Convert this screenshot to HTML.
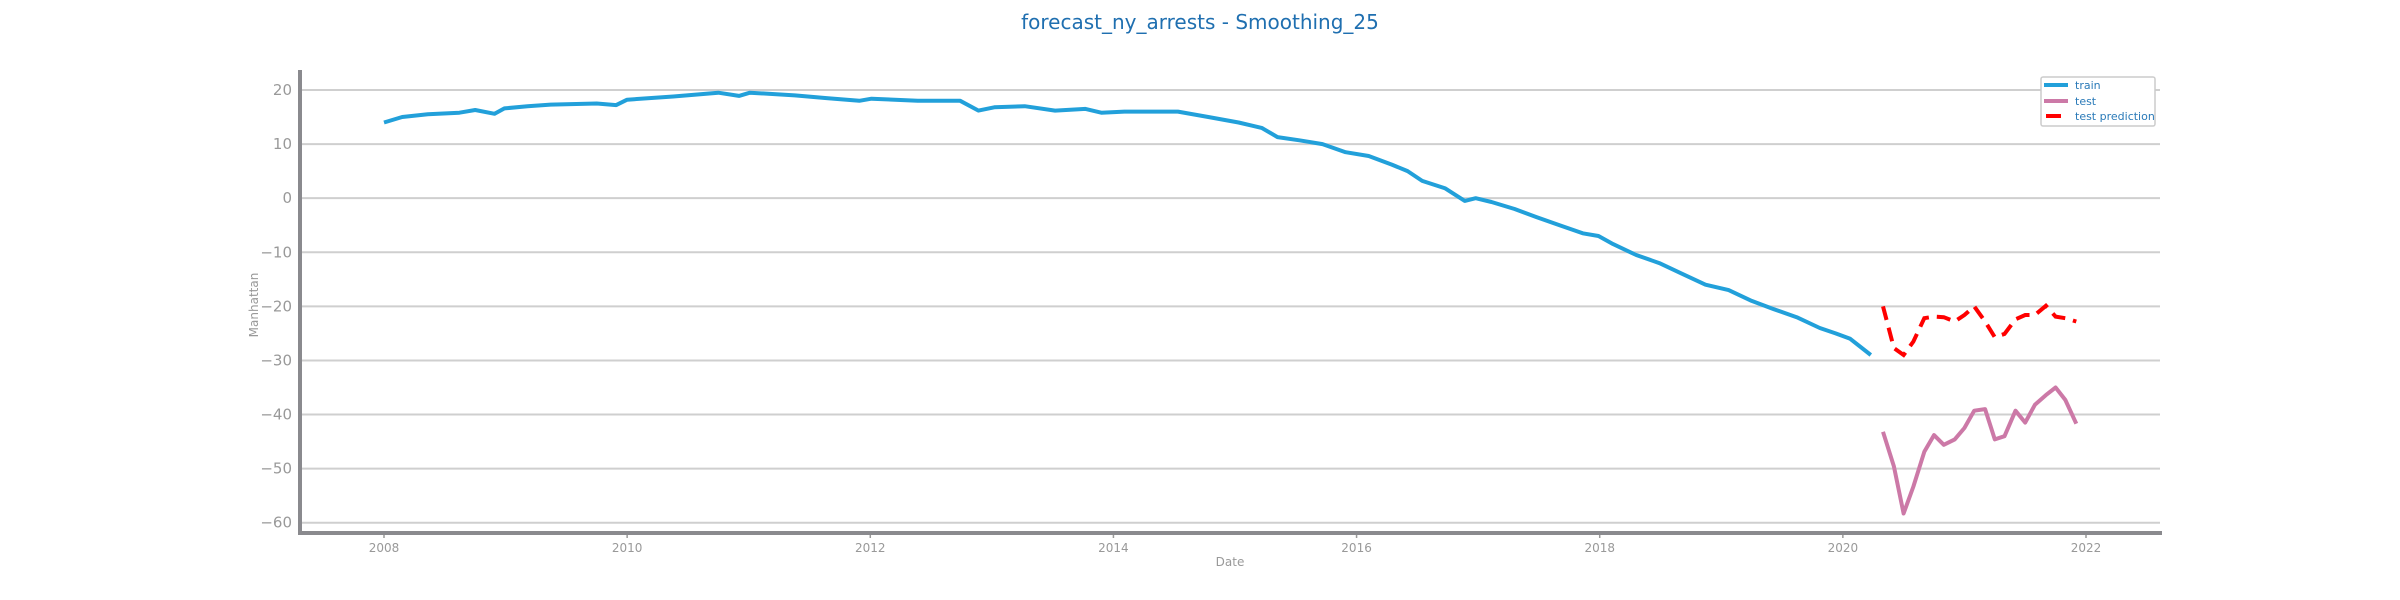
<!DOCTYPE html>
<html><head><meta charset="utf-8"><style>
html,body{margin:0;padding:0;background:#fff}
svg{display:block;font-family:"DejaVu Sans","Liberation Sans",sans-serif}
</style></head><body>
<svg id="chart" width="2400" height="600" viewBox="0 0 2400 600" xmlns="http://www.w3.org/2000/svg">
<text x="1200" y="29" text-anchor="middle" font-size="20" fill="#1f6fb0">forecast_ny_arrests - Smoothing_25</text>
<g id="grid"></g>
<g id="yticks"></g>
<g id="xticks"></g>
<g id="series"></g>
<line x1="300" y1="70" x2="300" y2="535" stroke="#8a8a8e" stroke-width="4"/>
<line x1="298" y1="533" x2="2162" y2="533" stroke="#8a8a8e" stroke-width="4"/>
<text x="1230" y="566" text-anchor="middle" font-size="12" fill="#999">Date</text>
<text transform="translate(258,305) rotate(-90)" text-anchor="middle" font-size="12" fill="#999">Manhattan</text>
<g>
<rect x="2041" y="77" width="114" height="49" rx="2" fill="#fff" stroke="#ccc" stroke-width="1.5"/>
<line x1="2044" y1="85" x2="2068" y2="85" stroke="#22a0da" stroke-width="4"/>
<text x="2075" y="89" font-size="11" fill="#2a7ab8">train</text>
<line x1="2044" y1="101" x2="2068" y2="101" stroke="#cc79a7" stroke-width="4"/>
<text x="2075" y="105" font-size="11" fill="#2a7ab8">test</text>
<line x1="2046" y1="116" x2="2061" y2="116" stroke="#ff0000" stroke-width="4"/>
<text x="2075" y="120" font-size="11" fill="#2a7ab8">test prediction</text>
</g>
</svg>
<script>
const yTicks = [20, 10, 0, -10, -20, -30, -40, -50, -60];
const xTickYears = [2008, 2010, 2012, 2014, 2016, 2018, 2020, 2022];
const trainDates = [2008.00,2008.15,2008.36,2008.62,2008.75,2008.91,2008.99,2009.18,2009.37,2009.75,2009.91,2010.00,2010.38,2010.75,2010.92,2011.01,2011.38,2011.64,2011.91,2012.01,2012.39,2012.74,2012.89,2013.02,2013.27,2013.52,2013.77,2013.90,2014.09,2014.53,2014.78,2015.03,2015.22,2015.35,2015.53,2015.72,2015.91,2016.10,2016.29,2016.42,2016.54,2016.73,2016.89,2016.98,2017.11,2017.30,2017.48,2017.67,2017.86,2017.99,2018.11,2018.30,2018.49,2018.68,2018.87,2019.06,2019.25,2019.43,2019.62,2019.81,2019.94,2020.06,2020.23];
const trainValues = [14,15,15.5,15.8,16.3,15.6,16.6,17,17.3,17.5,17.2,18.2,18.8,19.5,18.9,19.5,19,18.5,18,18.4,18,18,16.2,16.8,17,16.2,16.5,15.8,16,16,15,14,13,11.3,10.7,10,8.5,7.8,6.2,5,3.2,1.8,-0.5,0,-0.7,-2,-3.5,-5,-6.5,-7,-8.5,-10.5,-12,-14,-16,-17,-19,-20.5,-22,-24,-25,-26,-29];
const testDates = [2020.33,2020.42,2020.50,2020.58,2020.67,2020.75,2020.83,2020.92,2021.00,2021.08,2021.17,2021.25,2021.33,2021.42,2021.50,2021.58,2021.67,2021.75,2021.83,2021.92];
const testValues = [-43.2,-49.6,-58.3,-53.3,-46.9,-43.8,-45.6,-44.6,-42.5,-39.3,-39.0,-44.6,-44.0,-39.3,-41.5,-38.2,-36.4,-35.0,-37.3,-41.7];
const predValues = [-20.0,-27.7,-29.0,-26.5,-22.2,-21.9,-22.0,-22.8,-21.6,-20.0,-22.8,-25.7,-25.1,-22.4,-21.6,-21.6,-19.9,-21.9,-22.2,-22.8];

const NS = 'http://www.w3.org/2000/svg';
const X0 = 300, X1 = 2160;
function xScale(yr){ return 384 + (yr - 2008) * (2086 - 384) / 14; }
function yScale(v){ return 90 + (20 - v) * (522.7 - 90) / 80; }
function mk(tag, attrs, parent){
  const e = document.createElementNS(NS, tag);
  for (const k in attrs) e.setAttribute(k, attrs[k]);
  parent.appendChild(e);
  return e;
}
const grid = document.getElementById('grid');
const yg = document.getElementById('yticks');
const xg = document.getElementById('xticks');
const sg = document.getElementById('series');
yTicks.forEach(v => {
  const y = yScale(v);
  const l = mk('line', {x1: X0, x2: X1, y1: y, y2: y, stroke: '#cfcfcf', 'stroke-width': 2}, grid);
  
  
  const t = mk('text', {x: 292, y: y + 5, 'text-anchor': 'end', 'font-size': 15, fill: '#999'}, yg);
  
  
  t.textContent = v < 0 ? '\u2212' + Math.abs(v) : String(v);
});
xTickYears.forEach(yr => {
  const x = xScale(yr);
  const tk = mk('line', {x1: x, x2: x, y1: 531, y2: 538, stroke: '#999', 'stroke-width': 1.5}, xg);
  
  
  const t = mk('text', {x: x, y: 552, 'text-anchor': 'middle', 'font-size': 12, fill: '#999'}, xg);
  
  
  t.textContent = String(yr);
});
function pts(d, v){ return d.map((dd, i) => xScale(dd).toFixed(1) + ',' + yScale(v[i]).toFixed(1)).join(' '); }
const tr = mk('polyline', {points: pts(trainDates, trainValues), fill: 'none', stroke: '#22a0da', 'stroke-width': 4, 'stroke-linejoin': 'round'}, sg);


const te = mk('polyline', {points: pts(testDates, testValues), fill: 'none', stroke: '#cc79a7', 'stroke-width': 4, 'stroke-linejoin': 'round'}, sg);


const pr = mk('polyline', {points: pts(testDates, predValues), fill: 'none', stroke: '#ff0000', 'stroke-width': 4, 'stroke-dasharray': '14 8'}, sg);


</script>
</body></html>
